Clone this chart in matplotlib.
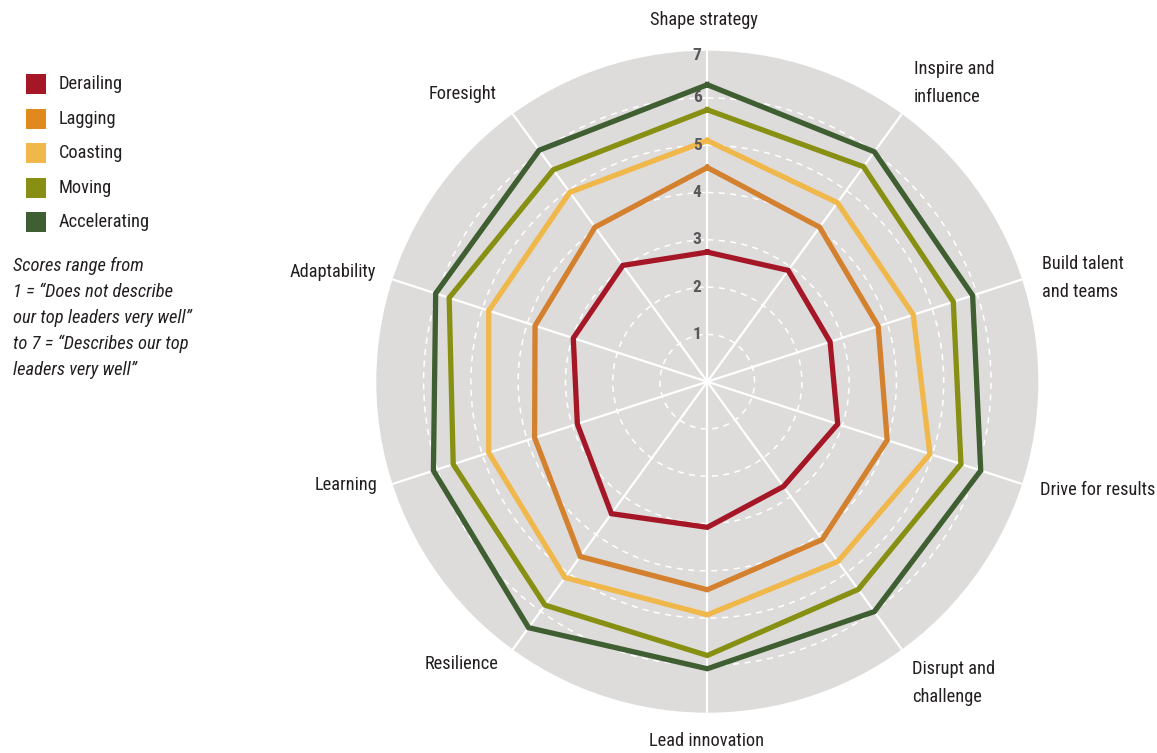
import numpy as np
import matplotlib.pyplot as plt
from matplotlib.patches import Rectangle

FONT = ['Roboto Condensed', 'Open Sans Condensed', 'Liberation Sans Narrow', 'Lato', 'DejaVu Sans']
plt.rcParams['font.family'] = FONT

categories = ['Shape strategy', 'Inspire and\ninfluence', 'Build talent\nand teams',
              'Drive for results', 'Disrupt and\nchallenge', 'Lead innovation',
              'Resilience', 'Learning', 'Adaptability', 'Foresight']

derailing = [2.74, 2.91, 2.73, 2.90, 2.74, 3.08, 3.45, 2.89, 2.98, 3.04]
lagging = [4.53, 4.04, 3.80, 4.00, 4.13, 4.40, 4.57, 3.84, 3.83, 4.04]
coasting = [5.10, 4.68, 4.58, 4.95, 4.70, 4.93, 5.12, 4.86, 4.86, 4.95]
moving = [5.75, 5.62, 5.47, 5.64, 5.43, 5.79, 5.84, 5.65, 5.74, 5.54]
accelerating = [6.28, 6.01, 5.90, 6.08, 6.01, 6.07, 6.43, 6.09, 6.04, 6.05]

series_names = ['Derailing', 'Lagging', 'Coasting', 'Moving', 'Accelerating']
series_values = [derailing, lagging, coasting, moving, accelerating]
line_colors = ['#a51726', '#d4812f', '#f0b74b', '#879013', '#3f5e31']
legend_colors = ['#a51726', '#e2891e', '#f0b74b', '#879013', '#3f5e31']

score_ticks = [1, 2, 3, 4, 5, 6]
TXT = '#231f20'

W, H = 1157, 753
fig = plt.figure(figsize=(W / 100, H / 100), dpi=100)

# polar axes centred at (707, 382) px with radius 331 px
cx, cy, rad = 707.3, 381.7, 331
ax = fig.add_axes([(cx - rad) / W, 1 - (cy + rad) / H, 2 * rad / W, 2 * rad / H],
                  projection='polar')
ax.set_theta_offset(np.pi / 2)
ax.set_theta_direction(-1)
ax.set_facecolor('#dddcdb')
ax.spines['polar'].set_visible(False)
ax.set_ylim(0, 7)
ax.set_axisbelow(True)

n = len(categories)
theta = np.linspace(0, 2 * np.pi, n, endpoint=False)
ax.set_xticks(theta)
ax.set_xticklabels([])
ax.set_yticks(score_ticks)
ax.set_yticklabels([])
ax.tick_params(length=0)
ax.xaxis.grid(True, color='white', lw=1.6, ls='-')
ax.yaxis.grid(True, color='white', lw=1.1, ls=(0, (4, 3.5)))

for vals, col in zip(series_values, line_colors):
    t = np.append(theta, theta[0])
    v = np.append(vals, vals[0])
    ax.plot(t, v, color=col, lw=3.8, solid_joinstyle='miter', zorder=3)

# radial scale labels along the top spoke
for r in score_ticks + [7]:
    ax.annotate(str(r), xy=(0, r if r < 7 else 6.9), xytext=(-4, 0),
                textcoords='offset points', ha='right', va='center',
                fontsize=12.5, fontweight='bold', color='#58585a', zorder=4)

# category labels around the chart
label_pos = [
    (704, 20, 'center'), (914, 83, 'left'), (1042, 278, 'left'),
    (1040, 490, 'left'), (912, 683, 'left'), (707, 741, 'center'),
    (499, 664, 'right'), (377, 485, 'right'), (376, 272, 'right'),
    (497, 94, 'right'),
]
for name, (x, y, ha) in zip(categories, label_pos):
    fig.text(x / W, 1 - y / H, name, ha=ha, va='center', fontsize=13.2,
             color=TXT, linespacing=1.65)

# legend
for i, (name, col) in enumerate(zip(series_names, legend_colors)):
    y = 84 + i * 34.6
    fig.patches.append(Rectangle((26 / W, 1 - (y + 10) / H), 20 / W, 20 / H,
                                 transform=fig.transFigure, facecolor=col,
                                 edgecolor='none'))
    fig.text(59 / W, 1 - y / H, name, ha='left', va='center', fontsize=13.2,
             color=TXT)

note = ('Scores range from\n1 = \u201cDoes not describe\nour top leaders very well\u201d\n'
        'to 7 = \u201cDescribes our top\nleaders very well\u201d')
fig.text(13 / W, 1 - 318 / H, note, ha='left', va='center', fontsize=13.3,
         style='italic', color=TXT, linespacing=1.55)

fig.savefig('out.png', dpi=100)
